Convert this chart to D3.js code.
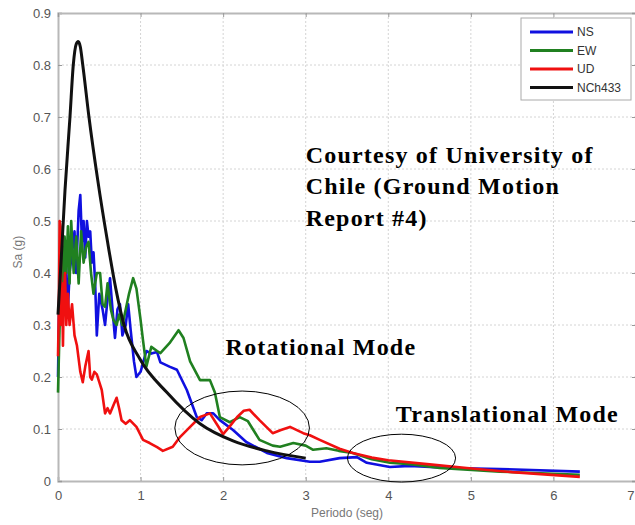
<!DOCTYPE html>
<html>
<head>
<meta charset="utf-8">
<script src="https://cdnjs.cloudflare.com/ajax/libs/d3/7.8.5/d3.min.js"></script>
<style>
  body { margin: 0; background: #fff; }
  .canvas svg { display: block; }
</style>
</head>
<body>
<div class="canvas"></div>
<script>
// response spectra: [period (s), Sa (g)]
const ns = [
  [0, 0.20], [0.02, 0.40], [0.04, 0.35], [0.06, 0.42], [0.08, 0.38], [0.1, 0.41], [0.12, 0.33],
  [0.14, 0.40], [0.17, 0.44], [0.2, 0.48], [0.22, 0.40], [0.25, 0.52], [0.27, 0.55], [0.29, 0.46],
  [0.31, 0.50], [0.33, 0.43], [0.35, 0.50], [0.37, 0.47], [0.39, 0.48], [0.41, 0.42], [0.43, 0.44],
  [0.45, 0.38], [0.47, 0.28], [0.5, 0.36], [0.54, 0.33], [0.57, 0.30], [0.6, 0.35], [0.63, 0.39],
  [0.66, 0.33], [0.69, 0.275], [0.72, 0.33], [0.75, 0.34], [0.78, 0.28], [0.82, 0.30], [0.85, 0.34],
  [0.88, 0.29], [0.92, 0.23], [0.95, 0.20], [1.0, 0.21], [1.07, 0.25], [1.13, 0.245], [1.2, 0.248],
  [1.24, 0.228], [1.35, 0.22], [1.44, 0.214], [1.56, 0.175], [1.68, 0.123], [1.74, 0.117], [1.8, 0.13],
  [1.88, 0.13], [1.96, 0.117], [2.12, 0.098], [2.28, 0.075], [2.53, 0.054], [2.77, 0.044], [3.05, 0.037],
  [3.17, 0.037], [3.41, 0.044], [3.62, 0.046], [3.74, 0.035], [4.02, 0.027], [4.26, 0.029], [4.75, 0.025],
  [5.35, 0.023], [6.32, 0.018]
]

const ew = [
  [0, 0.17], [0.02, 0.30], [0.04, 0.44], [0.06, 0.36], [0.08, 0.47], [0.1, 0.40], [0.12, 0.49],
  [0.14, 0.38], [0.16, 0.50], [0.19, 0.40], [0.22, 0.47], [0.25, 0.38], [0.28, 0.48], [0.31, 0.42],
  [0.34, 0.45], [0.37, 0.46], [0.4, 0.40], [0.43, 0.36], [0.47, 0.40], [0.51, 0.40], [0.54, 0.34],
  [0.57, 0.335], [0.6, 0.38], [0.64, 0.33], [0.67, 0.31], [0.71, 0.30], [0.74, 0.32], [0.78, 0.30],
  [0.82, 0.33], [0.86, 0.36], [0.91, 0.39], [0.95, 0.37], [1.0, 0.31], [1.03, 0.27], [1.07, 0.22],
  [1.13, 0.258], [1.2, 0.25], [1.24, 0.246], [1.35, 0.265], [1.46, 0.29], [1.52, 0.275], [1.6, 0.23],
  [1.72, 0.194], [1.84, 0.194], [1.9, 0.17], [1.96, 0.123], [2.08, 0.113], [2.2, 0.123], [2.3, 0.115],
  [2.44, 0.079], [2.6, 0.068], [2.69, 0.066], [2.85, 0.073], [3.0, 0.068], [3.09, 0.06], [3.25, 0.063],
  [3.4, 0.058], [3.57, 0.054], [3.8, 0.042], [4.02, 0.035], [4.3, 0.032], [4.62, 0.025], [5.35, 0.018],
  [6.32, 0.012]
]

const ud = [
  [0, 0.24], [0.01, 0.33], [0.02, 0.50], [0.03, 0.49], [0.04, 0.30], [0.05, 0.38], [0.06, 0.26],
  [0.07, 0.36], [0.085, 0.40], [0.1, 0.30], [0.12, 0.36], [0.14, 0.30], [0.17, 0.34], [0.2, 0.28],
  [0.23, 0.26], [0.27, 0.21], [0.3, 0.19], [0.33, 0.22], [0.37, 0.25], [0.39, 0.20], [0.41, 0.195],
  [0.44, 0.21], [0.47, 0.205], [0.5, 0.19], [0.53, 0.175], [0.57, 0.13], [0.6, 0.14], [0.63, 0.13],
  [0.67, 0.145], [0.71, 0.16], [0.74, 0.14], [0.77, 0.117], [0.82, 0.11], [0.87, 0.117], [0.95, 0.104],
  [1.03, 0.079], [1.11, 0.073], [1.2, 0.065], [1.27, 0.058], [1.39, 0.066], [1.48, 0.085], [1.6, 0.104],
  [1.72, 0.123], [1.84, 0.13], [1.92, 0.11], [2.0, 0.09], [2.08, 0.105], [2.17, 0.123], [2.25, 0.135],
  [2.32, 0.137], [2.44, 0.117], [2.6, 0.092], [2.7, 0.098], [2.81, 0.104], [2.97, 0.092], [3.05, 0.088],
  [3.17, 0.079], [3.41, 0.062], [3.57, 0.054], [3.8, 0.045], [4.0, 0.040], [4.5, 0.032], [4.95, 0.025],
  [5.5, 0.017], [6.32, 0.008]
]

const nch433 = [
  [0, 0.32], [0.04, 0.43], [0.085, 0.56], [0.145, 0.70], [0.185, 0.80], [0.22, 0.84], [0.245, 0.845],
  [0.27, 0.835], [0.30, 0.80], [0.375, 0.70], [0.48, 0.58], [0.6, 0.46], [0.7, 0.37], [0.8, 0.30],
  [0.99, 0.235], [1.32, 0.17], [1.72, 0.11], [2.12, 0.077], [2.53, 0.058], [3.0, 0.044]
]

const seriesNames = ['NS', 'EW', 'UD', 'NCh433']
const seriesColors = ['#1010e0', '#208020', '#f01010', '#111111']
const seriesData = [ns, ew, ud, nch433]

const xTicks = [0, 1, 2, 3, 4, 5, 6, 7]
const yTicks = [0, 0.1, 0.2, 0.3, 0.4, 0.5, 0.6, 0.7, 0.8, 0.9]

// overlaid notes: [period, Sa, text]
const noteLines = [
  [3.0, 0.611, 'Courtesy of University of'],
  [3.0, 0.551, 'Chile (Ground Motion'],
  [3.0, 0.49, 'Report #4)'],
  [2.03, 0.243, 'Rotational Mode'],
  [4.09, 0.113, 'Translational Mode']
]
// ellipses: [centre period, centre Sa, half width (s), half height (g)]
const rings = [
  [2.23, 0.102, 0.815, 0.071],
  [4.16, 0.044, 0.655, 0.046]
]

const size = {width: 635, height: 525}
const margin = {top: 13, right: -1, bottom: 44, left: 58}
const inner = {
  width: size.width - margin.left - margin.right,
  height: size.height - margin.top - margin.bottom
}

const svg = d3.select('.canvas')
  .append('svg')
  .attr('width', size.width)
  .attr('height', size.height)

const chart = svg.append('g')
  .attr('transform', `translate(${margin.left}, ${margin.top})`)

const x = d3.scaleLinear().domain([0, 7]).range([0, inner.width])
const y = d3.scaleLinear().domain([0, 0.9]).range([inner.height, 0])

// dotted grid
chart.append('g')
  .selectAll('line')
  .data(xTicks.slice(1, -1))
  .join('line')
  .attr('x1', d => x(d)).attr('x2', d => x(d))
  .attr('y1', 0).attr('y2', inner.height)
  .attr('stroke', '#d4d4d4')
  .attr('stroke-dasharray', '2,2')

chart.append('g')
  .selectAll('line')
  .data(yTicks.slice(1, -1))
  .join('line')
  .attr('x1', 0).attr('x2', inner.width)
  .attr('y1', d => y(d)).attr('y2', d => y(d))
  .attr('stroke', '#d4d4d4')
  .attr('stroke-dasharray', '2,2')

// axes
const xAxis = d3.axisBottom(x).tickValues(xTicks).tickSize(-4).tickPadding(10)
  .tickFormat(d3.format('d'))
const yAxis = d3.axisLeft(y).tickValues(yTicks).tickSize(-4).tickPadding(7)
  .tickFormat(d => d === 0 ? '0' : d.toFixed(1))

const xAxisGroup = chart.append('g')
  .attr('transform', `translate(0, ${inner.height})`)
  .call(xAxis)
const yAxisGroup = chart.append('g').call(yAxis)

chart.append('g')
  .call(d3.axisTop(x).tickValues(xTicks).tickSize(-4).tickFormat(''))
chart.append('g')
  .attr('transform', `translate(${inner.width}, 0)`)
  .call(d3.axisRight(y).tickValues(yTicks).tickSize(-4).tickFormat(''))

chart.selectAll('.domain').attr('stroke', '#b8b8b8').attr('stroke-width', 2)
chart.selectAll('.tick line').attr('stroke', '#999')
chart.selectAll('.tick text')
  .attr('fill', '#555')
  .style('font', '13px "Liberation Sans", Arial, sans-serif')

// the last period label sits on the page edge, keep it inside
xAxisGroup.selectAll('.tick text')
  .filter(d => d === 7)
  .attr('text-anchor', 'end')
  .attr('dx', -2)

svg.append('text')
  .attr('x', margin.left + x(3.5))
  .attr('y', 517)
  .attr('text-anchor', 'middle')
  .attr('fill', '#777')
  .style('font', '12px "Liberation Sans", Arial, sans-serif')
  .text('Periodo (seg)')

svg.append('text')
  .attr('transform', `translate(22, ${margin.top + y(0.44)}) rotate(-90)`)
  .attr('text-anchor', 'middle')
  .attr('fill', '#777')
  .style('font', '12px "Liberation Sans", Arial, sans-serif')
  .text('Sa (g)')

// spectra
const line = d3.line()
  .x(d => x(d[0]))
  .y(d => y(d[1]))

chart.append('g')
  .selectAll('path')
  .data(seriesData)
  .join('path')
  .attr('fill', 'none')
  .attr('stroke', (d, i) => seriesColors[i])
  .attr('stroke-width', (d, i) => i === 3 ? 3 : 2.6)
  .attr('stroke-linejoin', 'round')
  .attr('d', (d, i) => i === 3 ? line.curve(d3.curveMonotoneX)(d) : line.curve(d3.curveLinear)(d))

// legend
const legend = svg.append('g').attr('transform', 'translate(521, 18)')
legend.append('rect')
  .attr('width', 110).attr('height', 82)
  .attr('fill', '#fff')
  .attr('stroke', '#aaa')

const entries = legend.selectAll('g')
  .data(seriesNames)
  .join('g')
  .attr('transform', (d, i) => `translate(0, ${14 + i * 18.5})`)
entries.append('line')
  .attr('x1', 9).attr('x2', 52)
  .attr('stroke', (d, i) => seriesColors[i])
  .attr('stroke-width', 3)
entries.append('text')
  .attr('x', 56).attr('dy', '0.35em')
  .attr('fill', '#333')
  .style('font', '12px "Liberation Sans", Arial, sans-serif')
  .text(d => d)

// notes
chart.append('g')
  .selectAll('ellipse')
  .data(rings)
  .join('ellipse')
  .attr('cx', d => x(d[0]))
  .attr('cy', d => y(d[1]))
  .attr('rx', d => x(d[2]) - x(0))
  .attr('ry', d => y(0) - y(d[3]))
  .attr('fill', 'none')
  .attr('stroke', '#000')
  .attr('stroke-width', 1)

chart.append('g')
  .selectAll('text')
  .data(noteLines)
  .join('text')
  .attr('x', d => x(d[0]))
  .attr('y', d => y(d[1]))
  .attr('fill', '#000')
  .style('font', 'bold 24px "Liberation Serif", "Times New Roman", serif')
  .style('letter-spacing', '1.2px')
  .text(d => d[2])
</script>
</body>
</html>
